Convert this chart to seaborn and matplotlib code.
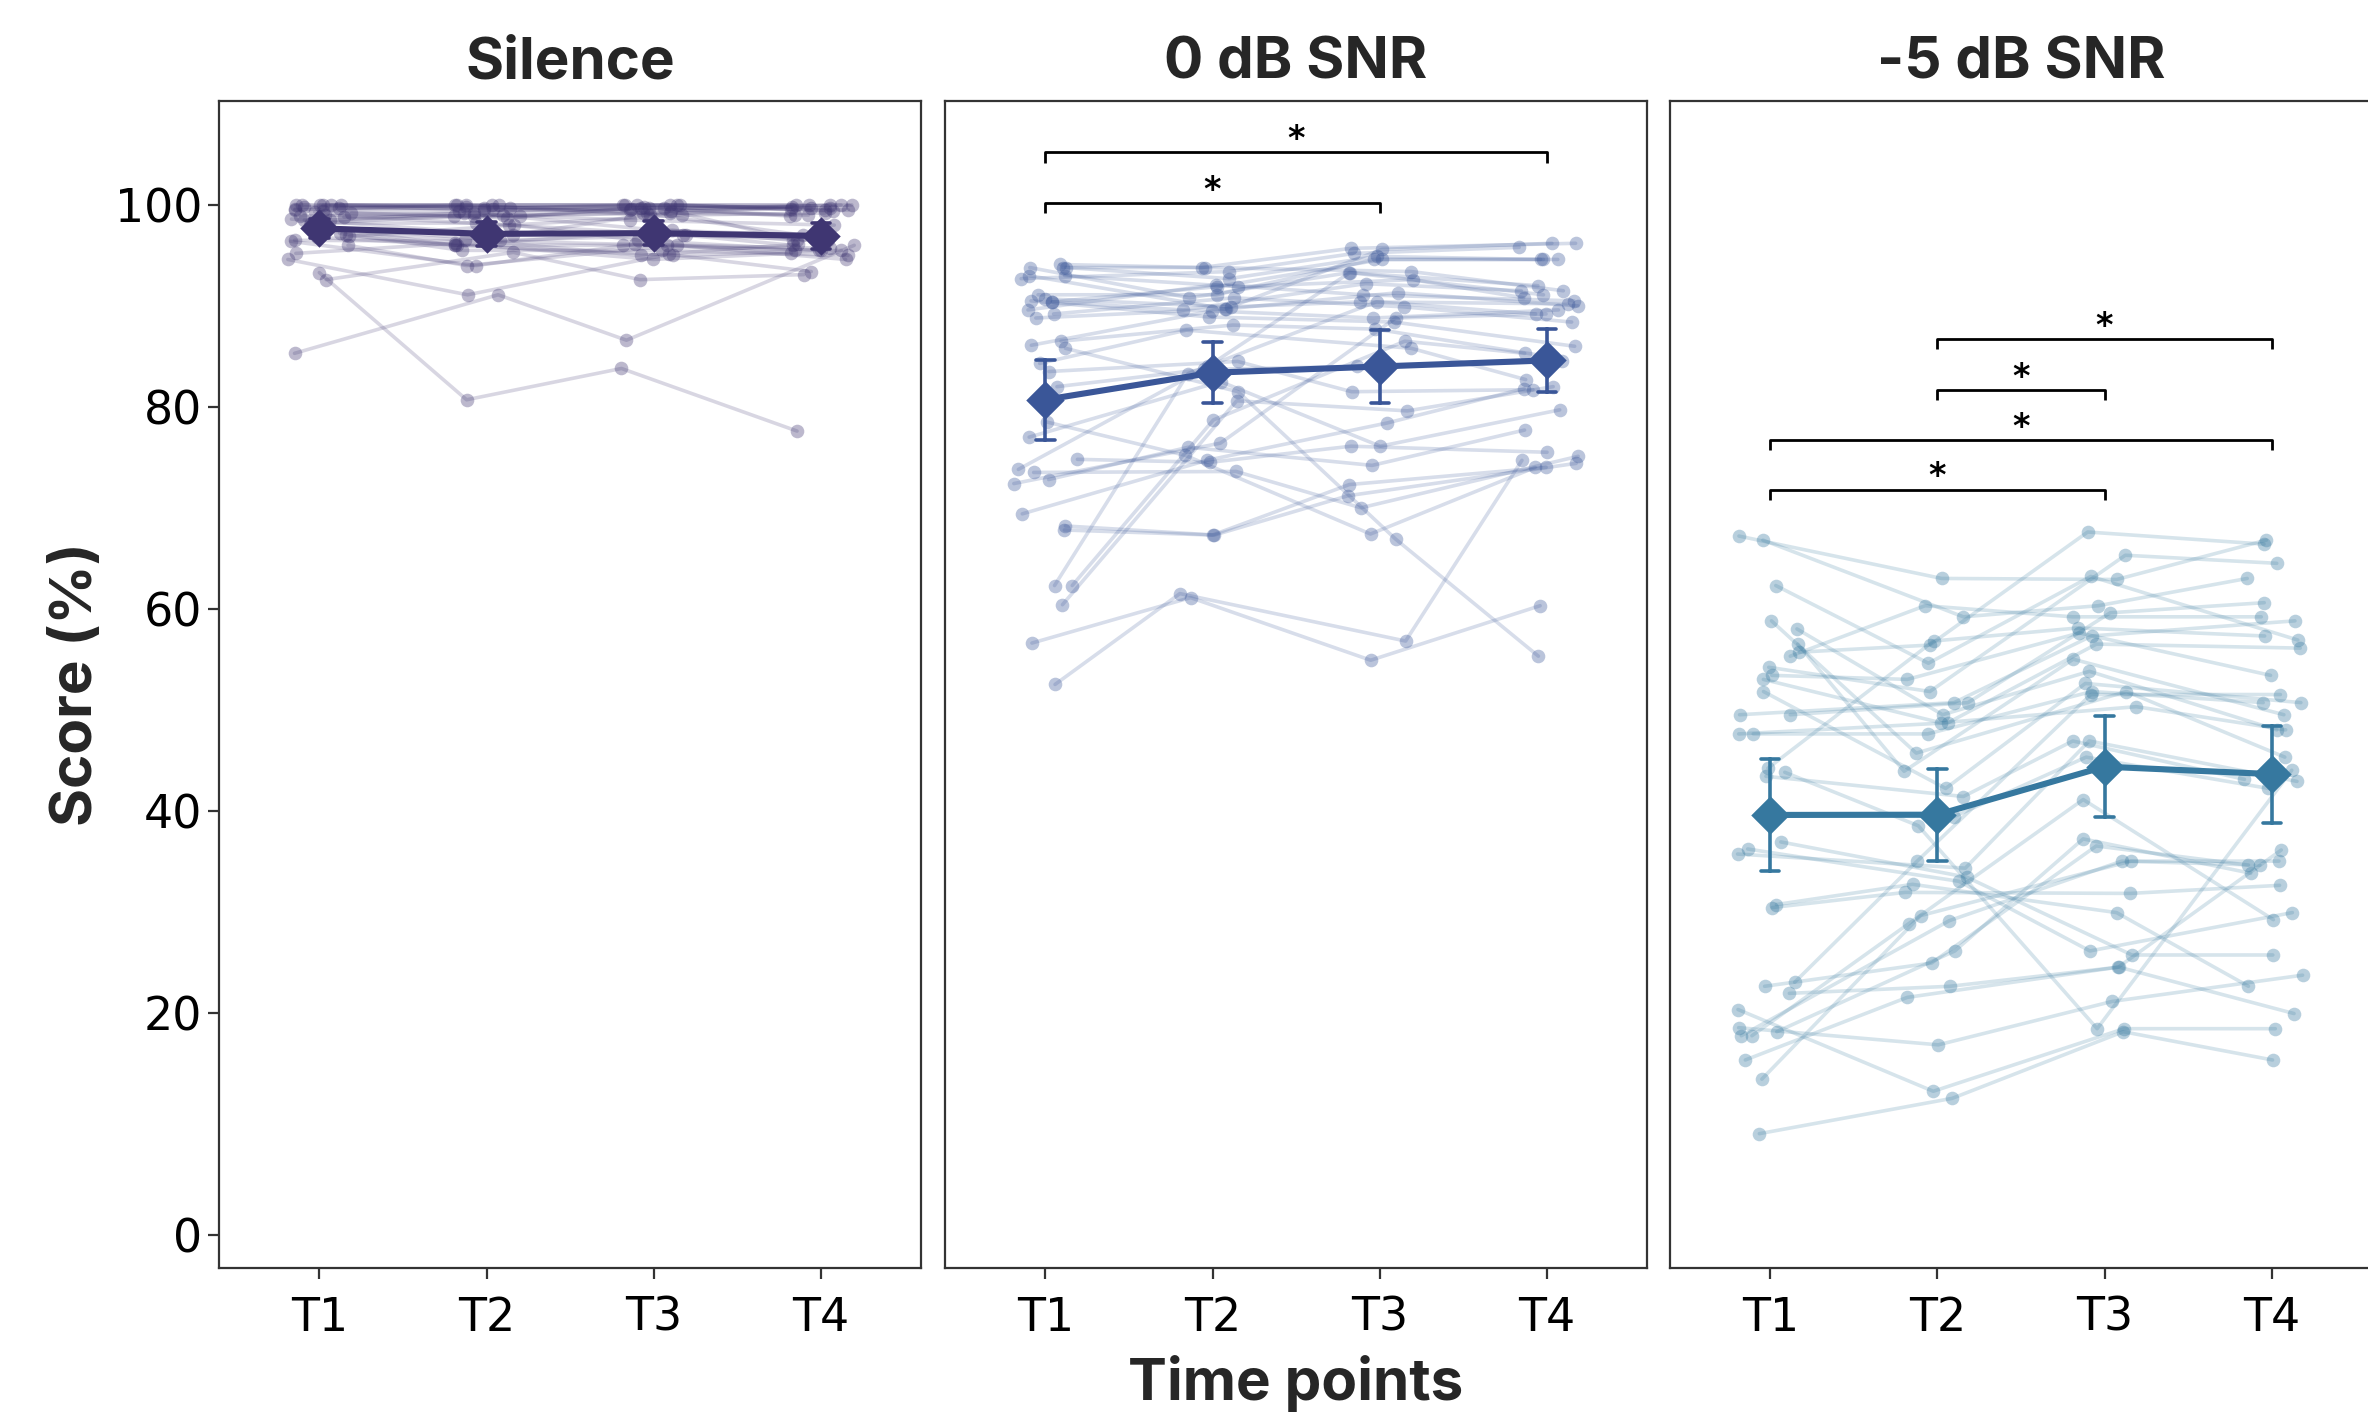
import numpy as np
import pandas as pd
import matplotlib
matplotlib.use("Agg")
import matplotlib.pyplot as plt
import seaborn as sns

# ---------------------------------------------------------------- data
TIMES = ["T1", "T2", "T3", "T4"]
CONDITIONS = ["Silence", "0 dB SNR", "-5 dB SNR"]
COLORS = ["#3F3672", "#3A5698", "#36789F"]

# one entry per participant (same order in every list)
SILENCE_T1 = [85.3, 93.3, 92.6, 94.6, 95.2, 96.0, 96.4, 96.5, 96.9, 97.8, 98.2, 98.2,
              98.5, 98.5, 99.6, 99.7, 100, 100, 100, 100, 99.2, 98.9, 99.4, 97.5,
              98.0, 99.0, 100, 97.2, 98.8, 99.5, 96.8, 99.8, 98.6, 97.0, 99.3, 100]
SILENCE_T2 = [91.1, 80.7, 95.3, 91.1, 96.2, 94.0, 94.0, 96.4, 98.0, 96.5, 98.2, 98.9,
              99.2, 98.9, 99.7, 100, 100, 100, 99.7, 100, 98.9, 99.2, 99.4, 96.5,
              96.0, 98.0, 99.5, 95.5, 99.0, 100, 96.0, 99.6, 97.0, 96.0, 98.7, 99.8]
SILENCE_T3 = [86.6, 83.8, 92.6, 95.1, 94.6, 96.0, 96.1, 95.0, 96.5, 97.0, 97.0, 99.2,
              99.7, 99.7, 100, 100, 100, 99.2, 100, 100, 99.2, 97.5, 99.7, 96.0,
              97.5, 99.0, 99.5, 95.5, 98.5, 99.0, 95.0, 100, 99.4, 96.0, 99.8, 99.6]
SILENCE_T4 = [96.0, 77.6, 93.1, 93.4, 95.2, 94.6, 95.7, 96.1, 95.5, 96.0, 96.5, 97.0,
              98.9, 99.0, 99.5, 99.7, 100, 100, 99.7, 100, 99.0, 97.0, 99.5, 95.5,
              96.5, 99.2, 100, 95.0, 98.0, 99.8, 95.5, 99.4, 96.5, 95.5, 99.6, 100]

SNR0_T1 = [94.1, 93.8, 93.8, 93.8, 93.0, 93.0, 92.7, 91.1, 90.7, 90.5, 90.4, 90.4,
           89.6, 89.2, 88.8, 86.5, 86.1, 85.8, 84.3, 83.5, 82.0, 78.5, 77.0, 74.8,
           73.8, 73.5, 72.8, 72.4, 69.4, 68.2, 67.8, 62.3, 62.3, 60.4, 56.6, 52.5]
SNR0_T2 = [93.8, 92.7, 93.8, 90.8, 91.9, 89.7, 93.4, 91.1, 89.9, 88.9, 91.9, 89.6,
           92.1, 90.8, 89.7, 88.1, 89.5, 81.5, 87.6, 84.5, 83.7, 75.2, 82.5, 74.5,
           84.0, 73.6, 76.0, 76.4, 74.7, 67.3, 67.3, 83.3, 78.7, 80.6, 61.1, 61.5]
SNR0_T3 = [95.7, 94.9, 93.4, 93.3, 92.6, 95.6, 95.2, 94.6, 90.4, 88.4, 94.6, 92.2,
           91.1, 89.9, 91.3, 87.7, 88.8, 66.9, 85.8, 81.5, 84.0, 67.4, 76.1, 76.1,
           93.3, 70.0, 74.2, 88.8, 78.4, 71.2, 72.3, 90.4, 86.5, 79.6, 54.9, 56.8]
SNR0_T4 = [96.2, 94.6, 91.5, 92.0, 90.8, 96.2, 95.8, 94.6, 90.2, 86.0, 94.6, 91.5,
           90.5, 88.4, 90.0, 84.9, 89.6, 55.3, 82.7, 81.7, 84.5, 74.0, 79.7, 75.5,
           91.1, 75.1, 77.7, 89.2, 81.8, 74.4, 74.0, 89.2, 85.3, 82.0, 60.3, 74.7]

SNR5_T1 = [67.2, 66.8, 62.3, 58.8, 58.0, 56.5, 55.7, 55.3, 54.2, 53.4, 53.0, 51.8,
           49.5, 49.5, 47.6, 47.6, 44.2, 43.8, 43.4, 39.6, 36.9, 36.2, 35.7, 30.7,
           30.4, 23.0, 22.6, 21.9, 20.3, 18.5, 18.1, 17.7, 17.7, 15.3, 13.4, 8.0]
SNR5_T2 = [63.0, 59.2, 54.6, 45.7, 49.5, 43.9, 56.4, 60.3, 51.8, 53.0, 48.7, 42.2,
           50.7, 50.7, 47.6, 48.7, 56.8, 38.5, 41.4, 39.4, 33.4, 33.0, 34.3, 32.7,
           31.9, 35.0, 24.9, 22.6, 12.2, 16.8, 26.1, 28.8, 29.1, 21.5, 29.6, 11.5]
SNR5_T3 = [62.9, 60.3, 63.2, 51.8, 53.8, 55.0, 67.6, 59.2, 65.3, 57.6, 50.3, 52.6,
           57.3, 59.6, 51.8, 56.5, 58.1, 18.4, 46.9, 45.3, 25.7, 26.1, 46.9, 29.9,
           31.8, 51.5, 36.5, 24.5, 18.4, 21.1, 37.2, 41.1, 35.0, 24.5, 35.0, 18.1]
SNR5_T4 = [66.8, 63.0, 56.9, 45.3, 48.0, 49.5, 66.4, 59.2, 64.5, 53.4, 48.0, 50.7,
           58.8, 60.6, 50.7, 56.1, 57.3, 44.0, 43.1, 42.2, 25.7, 29.9, 42.9, 22.6,
           32.6, 51.5, 34.6, 19.9, 18.4, 23.7, 33.8, 29.2, 34.6, 36.1, 35.0, 15.3]

# pairwise comparisons marked significant: (condition, first, second, bracket height)
SIGNIF = [
    ("0 dB SNR", "T1", "T3", 100.2),
    ("0 dB SNR", "T1", "T4", 105.2),
    ("-5 dB SNR", "T1", "T3", 71.8),
    ("-5 dB SNR", "T1", "T4", 76.7),
    ("-5 dB SNR", "T2", "T3", 81.7),
    ("-5 dB SNR", "T2", "T4", 86.7),
]

Y_TICKS = [-2, 20, 40, 60, 80, 100]
Y_TICKLABELS = ["0", "20", "40", "60", "80", "100"]

# ---------------------------------------------------------------- long table
columns = {
    "Silence": [SILENCE_T1, SILENCE_T2, SILENCE_T3, SILENCE_T4],
    "0 dB SNR": [SNR0_T1, SNR0_T2, SNR0_T3, SNR0_T4],
    "-5 dB SNR": [SNR5_T1, SNR5_T2, SNR5_T3, SNR5_T4],
}
rows = []
for cond in CONDITIONS:
    for ti, (t, vals) in enumerate(zip(TIMES, columns[cond])):
        for subj, v in enumerate(vals):
            rows.append({"condition": cond, "time": t, "tpos": ti,
                         "subject": subj, "score": v})
df = pd.DataFrame(rows)
rng = np.random.default_rng(11)
df["xj"] = df["tpos"] + rng.uniform(-0.2, 0.2, len(df))

# ---------------------------------------------------------------- style
sns.set_theme(style="ticks")
plt.rcParams["font.family"] = ["DejaVu Sans"]
TITLE_FONT = ["Inter", "DejaVu Sans"]

fig = plt.figure(figsize=(11.84, 7.07), dpi=200)
lefts = [0.0925, 0.3991, 0.7052]
axes = [fig.add_axes([l, 0.1033, 0.2965, 0.8253]) for l in lefts]

for ax, cond, col in zip(axes, CONDITIONS, COLORS):
    sub = df[df["condition"] == cond]
    sns.lineplot(data=sub, x="xj", y="score", units="subject", estimator=None,
                 color=col, alpha=0.2, linewidth=1.3, ax=ax, zorder=2)
    sns.scatterplot(data=sub, x="xj", y="score", color=col, alpha=0.35, s=24,
                    linewidth=0, ax=ax, zorder=3)
    sns.pointplot(data=sub, x="tpos", y="score", native_scale=True,
                  estimator="mean", errorbar=("se", 1.96), color=col,
                  markers="D", markersize=8, linewidth=2.2, capsize=0.11,
                  err_kws={"linewidth": 1.3, "zorder": 5}, ax=ax, zorder=6)

    for c, a, b, h in SIGNIF:
        if c != cond:
            continue
        x1, x2 = TIMES.index(a), TIMES.index(b)
        ax.plot([x1, x1, x2, x2], [h - 1.0, h, h, h - 1.0], color="black",
                linewidth=1.0, solid_capstyle="butt", zorder=7)
        ax.text((x1 + x2) / 2, h + 1.25, "*", ha="center", va="center",
                fontsize=12, fontweight="bold", color="black")

    ax.set_xlim(-0.6, 3.6)
    ax.set_ylim(-5.3, 110.3)
    ax.set_xticks(range(len(TIMES)))
    ax.set_xticklabels(TIMES)
    ax.set_title(cond, fontsize=21, fontweight="bold", family=TITLE_FONT, pad=8)
    ax.set_xlabel("")
    ax.set_ylabel("")
    for s in ax.spines.values():
        s.set_visible(True)
        s.set_color("#333333")
        s.set_linewidth(0.8)
    ax.tick_params(axis="both", direction="out", length=4, width=0.8,
                   color="#333333", labelsize=16.5, labelcolor="black")
    ax.tick_params(axis="x", pad=6)

axes[0].set_yticks(Y_TICKS)
axes[0].set_yticklabels(Y_TICKLABELS)
axes[0].tick_params(axis="y", pad=2)
for ax in axes[1:]:
    ax.tick_params(axis="y", left=False, labelleft=False)

axes[0].set_ylabel("Score (%)", fontsize=21, fontweight="bold",
                   family=TITLE_FONT, labelpad=4)
axes[1].set_xlabel("Time points", fontsize=21, fontweight="bold",
                   family=TITLE_FONT, labelpad=5)

fig.savefig("out.png", dpi=200, facecolor="white")
